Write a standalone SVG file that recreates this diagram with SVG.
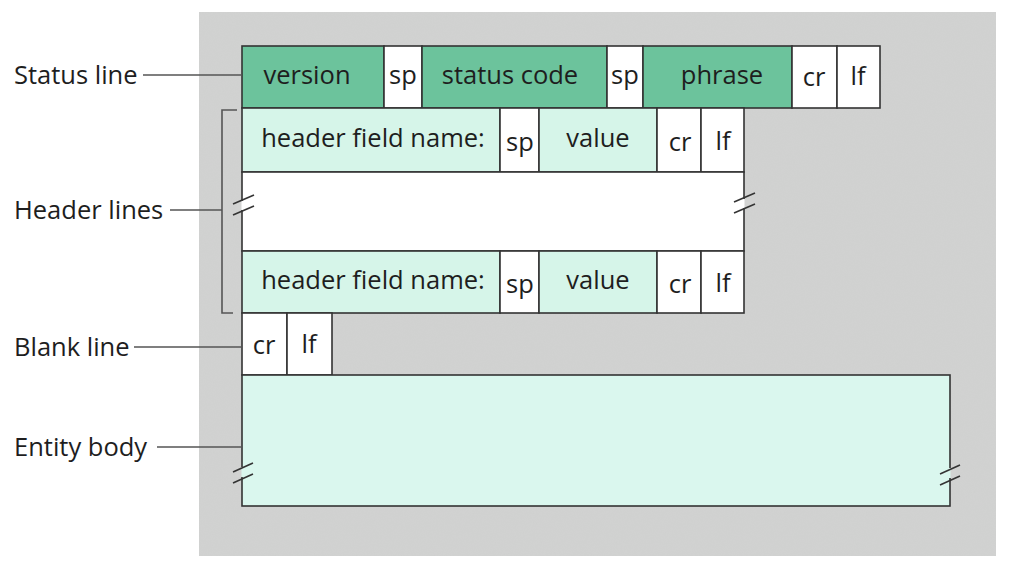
<svg xmlns="http://www.w3.org/2000/svg" width="1012" height="566" viewBox="0 0 1012 566">
<defs>
<filter id="noise" x="0" y="0" width="100%" height="100%">
<feTurbulence type="fractalNoise" baseFrequency="0.9" numOctaves="2" seed="3" result="t"/>
<feColorMatrix in="t" type="matrix" values="0 0 0 0 0.5  0 0 0 0 0.5  0 0 0 0 0.5  0 0 0 0.12 0" result="n"/>
<feComposite in="n" in2="SourceGraphic" operator="in" result="m"/>
<feMerge><feMergeNode in="SourceGraphic"/><feMergeNode in="m"/></feMerge>
</filter>
</defs>
<style>
text{font-family:"Open Sans","Noto Sans","DejaVu Sans",sans-serif;font-size:25.5px;fill:#1e1e1e;}
.c{text-anchor:middle;}
.cell{stroke:#333;stroke-width:1.6;}
.dk{fill:#6cc39c;}
.lt{fill:#d6f5e9;}
.wh{fill:#ffffff;}
.bd{fill:#daf7ee;}
.lead{stroke:#555;stroke-width:1.6;fill:none;}
.brk{stroke:#333;stroke-width:1.6;fill:none;}
.gap{stroke-width:5;fill:none;}
</style>
<rect x="0" y="0" width="1012" height="566" fill="#ffffff"/>
<rect x="199" y="12" width="797" height="544" fill="#d2d3d2" filter="url(#noise)"/>

<g id="status-line">
<rect class="cell dk" x="242" y="46" width="142" height="62"/>
<rect class="cell wh" x="384" y="46" width="38" height="62"/>
<rect class="cell dk" x="422" y="46" width="185" height="62"/>
<rect class="cell wh" x="607" y="46" width="36" height="62"/>
<rect class="cell dk" x="643" y="46" width="149" height="62"/>
<rect class="cell wh" x="792" y="46" width="45" height="62"/>
<rect class="cell wh" x="837" y="46" width="43" height="62"/>
<text class="c" x="307" y="84">version</text>
<text class="c" x="403" y="84">sp</text>
<text class="c" x="510" y="84">status code</text>
<text class="c" x="625" y="84">sp</text>
<text class="c" x="722" y="84">phrase</text>
<text class="c" x="814" y="86">cr</text>
<text class="c" x="858" y="85">lf</text>
</g>

<g id="header-line-1">
<rect class="cell lt" x="242" y="108" width="258" height="64"/>
<rect class="cell wh" x="500" y="108" width="39" height="64"/>
<rect class="cell lt" x="539" y="108" width="118" height="64"/>
<rect class="cell wh" x="657" y="108" width="44" height="64"/>
<rect class="cell wh" x="701" y="108" width="43" height="64"/>
<text class="c" x="373" y="147">header field name:</text>
<text class="c" x="520" y="151">sp</text>
<text class="c" x="598" y="147">value</text>
<text class="c" x="680" y="151">cr</text>
<text class="c" x="723" y="150">lf</text>
</g>

<g id="header-gap">
<rect class="cell wh" x="242" y="172" width="502" height="79"/>
<line class="gap" x1="242" y1="201" x2="242" y2="210" stroke="#ffffff"/>
<line class="gap" x1="744" y1="199" x2="744" y2="208" stroke="#ffffff"/>
<line class="gap" x1="239" y1="201" x2="239" y2="210" stroke="#d2d3d2"/>
<line class="gap" x1="747" y1="199" x2="747" y2="208" stroke="#d2d3d2"/>
<line class="brk" x1="233" y1="204" x2="254" y2="195"/>
<line class="brk" x1="233" y1="215" x2="254" y2="206"/>
<line class="brk" x1="734" y1="202" x2="755" y2="193"/>
<line class="brk" x1="734" y1="213" x2="755" y2="204"/>
</g>

<g id="header-line-2">
<rect class="cell lt" x="242" y="251" width="258" height="62"/>
<rect class="cell wh" x="500" y="251" width="39" height="62"/>
<rect class="cell lt" x="539" y="251" width="118" height="62"/>
<rect class="cell wh" x="657" y="251" width="44" height="62"/>
<rect class="cell wh" x="701" y="251" width="43" height="62"/>
<text class="c" x="373" y="289">header field name:</text>
<text class="c" x="520" y="293">sp</text>
<text class="c" x="598" y="289">value</text>
<text class="c" x="680" y="293">cr</text>
<text class="c" x="723" y="292">lf</text>
</g>

<g id="blank-line">
<rect class="cell wh" x="242" y="313" width="45" height="62"/>
<rect class="cell wh" x="287" y="313" width="45" height="62"/>
<text class="c" x="264" y="354">cr</text>
<text class="c" x="309" y="353">lf</text>
</g>

<g id="entity-body">
<rect class="cell bd" x="242" y="375" width="708" height="131"/>
<line class="gap" x1="242" y1="467" x2="242" y2="477" stroke="#daf7ee"/>
<line class="gap" x1="950" y1="468" x2="950" y2="478" stroke="#daf7ee"/>
<line class="gap" x1="239" y1="467" x2="239" y2="477" stroke="#d2d3d2"/>
<line class="gap" x1="953" y1="468" x2="953" y2="478" stroke="#d2d3d2"/>
<line class="brk" x1="233" y1="472" x2="253" y2="463"/>
<line class="brk" x1="233" y1="483" x2="253" y2="474"/>
<line class="brk" x1="940" y1="474" x2="960" y2="465"/>
<line class="brk" x1="940" y1="485" x2="960" y2="476"/>
</g>

<g id="labels">
<text x="14" y="84">Status line</text>
<text x="14" y="219">Header lines</text>
<text x="14" y="356">Blank line</text>
<text x="14" y="456">Entity body</text>
</g>

<g id="connectors">
<line class="lead" x1="143" y1="75" x2="242" y2="75"/>
<path class="lead" d="M237 110 H222 V313 H233"/>
<line class="lead" x1="170" y1="210" x2="222" y2="210"/>
<line class="lead" x1="134" y1="347" x2="242" y2="347"/>
<line class="lead" x1="157" y1="447" x2="242" y2="447"/>
</g>
</svg>
